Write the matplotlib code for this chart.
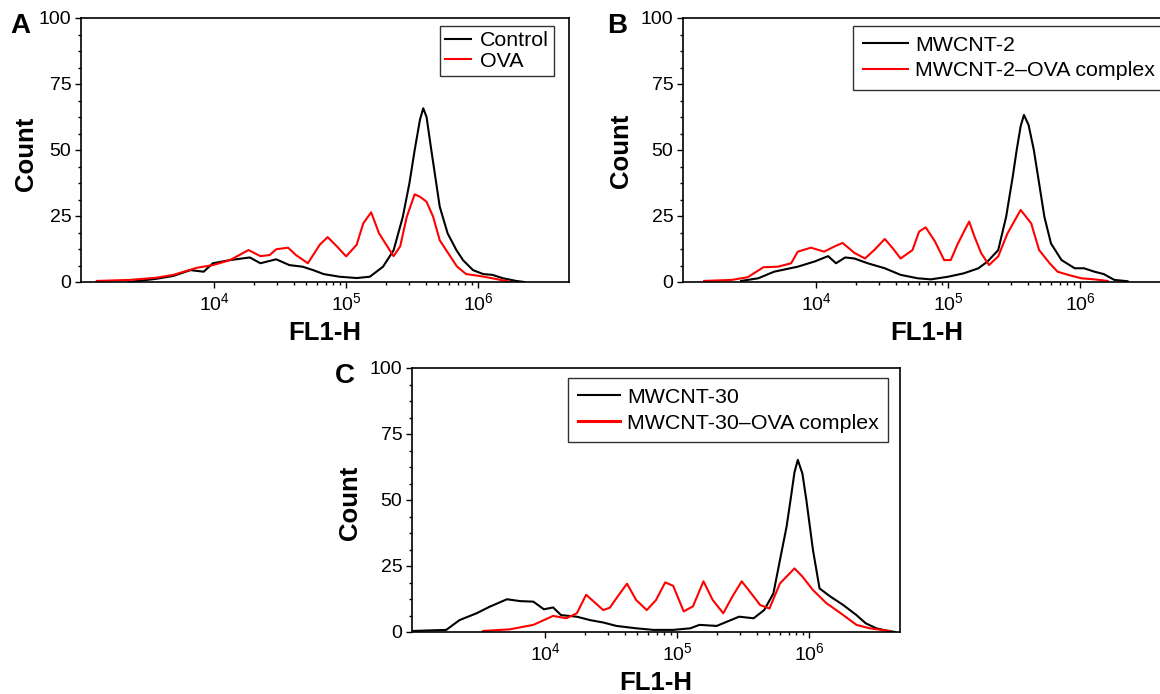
import numpy as np
import matplotlib
matplotlib.use("Agg")
import matplotlib.pyplot as plt
from matplotlib.ticker import MultipleLocator, FixedLocator, NullFormatter

plt.rcParams['font.family'] = ['Liberation Sans', 'DejaVu Sans']
plt.rcParams['mathtext.fontset'] = 'custom'
plt.rcParams['mathtext.rm'] = 'Liberation Sans'
plt.rcParams['mathtext.default'] = 'regular'

# x values are log10(FL1-H), y values are counts

# panel A
a_ctrl_x = [3.35, 3.44, 3.56, 3.69, 3.82, 3.92, 3.99, 4.12, 4.27, 4.35, 4.47, 4.57, 4.67,
            4.75, 4.83, 4.95, 5.08, 5.18, 5.28, 5.36, 5.43, 5.48, 5.52, 5.56, 5.585,
            5.61, 5.646, 5.71, 5.77, 5.836, 5.886, 5.962, 6.04, 6.11, 6.19, 6.29, 6.35]
a_ctrl_y = [0.0, 0.5, 1.2, 2.3, 4.5, 3.9, 7.1, 8.3, 9.3, 7.1, 8.6, 6.4, 5.8,
            4.5, 3.0, 2.0, 1.5, 2.0, 5.8, 12.0, 24.7, 37.4, 50.0, 61.5, 65.8,
            62.5, 50.0, 28.5, 18.4, 12.1, 8.3, 4.5, 3.0, 2.7, 1.4, 0.4, 0.0]
a_ova_x = [3.11, 3.36, 3.56, 3.69, 3.87, 3.99, 4.12, 4.26, 4.35, 4.42, 4.47, 4.56, 4.62,
           4.71, 4.80, 4.86, 4.93, 5.00, 5.08, 5.13, 5.19, 5.25, 5.33, 5.36, 5.41,
           5.46, 5.52, 5.56, 5.61, 5.66, 5.71, 5.79, 5.84, 5.91, 6.01, 6.11, 6.21, 6.25]
a_ova_y = [0.4, 0.8, 1.6, 2.7, 5.4, 6.4, 8.3, 12.1, 9.8, 10.2, 12.4, 13.0, 10.2,
           7.1, 14.1, 17.0, 13.5, 9.7, 14.1, 22.2, 26.4, 18.4, 12.1, 9.8, 13.5,
           24.7, 33.2, 32.3, 30.4, 24.7, 15.8, 9.7, 5.9, 3.0, 2.3, 1.4, 0.4, 0.0]

# panel B
b_cnt_x = [3.43, 3.56, 3.68, 3.86, 3.99, 4.09, 4.15, 4.22, 4.29, 4.39, 4.52, 4.64, 4.77,
           4.87, 5.00, 5.12, 5.23, 5.30, 5.38, 5.44, 5.49, 5.52, 5.55, 5.575, 5.61,
           5.65, 5.69, 5.73, 5.78, 5.86, 5.96, 6.03, 6.11, 6.18, 6.26, 6.36]
b_cnt_y = [0.4, 1.4, 3.9, 5.8, 7.8, 9.8, 7.1, 9.3, 8.9, 7.1, 5.2, 2.7, 1.4,
           1.0, 2.0, 3.3, 5.2, 7.8, 12.1, 24.7, 39.9, 50.0, 59.0, 63.3, 59.5,
           50.0, 37.4, 24.7, 14.6, 8.3, 5.2, 5.2, 3.9, 3.0, 0.8, 0.3]
b_ova_x = [3.15, 3.36, 3.48, 3.60, 3.71, 3.81, 3.86, 3.96, 4.06, 4.14, 4.20, 4.29, 4.37,
           4.44, 4.52, 4.58, 4.64, 4.73, 4.78, 4.83, 4.90, 4.97, 5.02, 5.07, 5.12,
           5.16, 5.20, 5.25, 5.31, 5.38, 5.45, 5.55, 5.63, 5.69, 5.77, 5.83, 5.91,
           6.01, 6.11, 6.21]
b_ova_y = [0.4, 0.8, 1.8, 5.6, 5.8, 7.1, 11.5, 13.0, 11.5, 13.5, 14.8, 11.0, 8.9,
           12.1, 16.3, 12.8, 8.9, 12.1, 19.1, 20.7, 15.4, 8.3, 8.3, 14.1, 19.1,
           22.9, 17.2, 11.0, 6.4, 9.7, 18.4, 27.3, 22.2, 12.1, 7.1, 3.9, 2.7,
           1.4, 1.0, 0.4]

# panel C
c_cnt_x = [3.0, 3.25, 3.35, 3.48, 3.58, 3.71, 3.81, 3.91, 3.99, 4.06, 4.12, 4.24, 4.34,
           4.44, 4.54, 4.69, 4.82, 4.97, 5.10, 5.17, 5.30, 5.47, 5.58, 5.66, 5.73,
           5.78, 5.83, 5.86, 5.89, 5.915, 5.95, 5.98, 6.03, 6.08, 6.16, 6.26, 6.36,
           6.43, 6.51, 6.59, 6.65]
c_cnt_y = [0.4, 0.8, 4.5, 7.1, 9.6, 12.4, 11.7, 11.5, 8.6, 9.3, 6.4, 5.8, 4.5,
           3.6, 2.3, 1.4, 0.8, 0.8, 1.4, 2.7, 2.3, 5.8, 5.2, 8.3, 14.6,
           27.3, 39.9, 50.0, 60.5, 65.2, 60.0, 50.0, 31.1, 16.5, 13.5, 10.2, 6.4,
           3.3, 1.4, 0.5, 0.0]
c_ova_x = [3.53, 3.73, 3.91, 4.06, 4.16, 4.24, 4.31, 4.38, 4.44, 4.49, 4.55, 4.62, 4.69,
           4.77, 4.84, 4.91, 4.97, 5.05, 5.12, 5.20, 5.27, 5.35, 5.42, 5.49, 5.55,
           5.63, 5.70, 5.78, 5.89, 5.95, 6.03, 6.13, 6.26, 6.36, 6.46, 6.61]
c_ova_y = [0.4, 1.0, 2.7, 6.1, 5.2, 7.1, 14.1, 11.0, 8.3, 9.2, 13.5, 18.3, 12.1,
           8.3, 12.1, 18.8, 17.5, 7.8, 9.7, 19.2, 12.1, 7.1, 13.5, 19.2, 15.4,
           10.2, 8.9, 18.4, 24.1, 21.0, 15.9, 11.0, 6.4, 2.7, 1.4, 0.4]

y_ticks = [0, 25, 50, 75, 100]
x_ticks = [1e4, 1e5, 1e6]
x_tick_labels = ['10$^{4}$', '10$^{5}$', '10$^{6}$']
x_minor = [k * 10.0**d for d in (4, 5) for k in range(2, 10)]

W, H = 1160.0, 694.0


def fx(x):
    return x / W


def fy(y):
    return 1 - y / H


def estilo(ax):
    ax.set_xscale('log')
    ax.set_xlim(10**2.99, 10**6.69)
    ax.set_ylim(0, 100)
    ax.set_xticks(x_ticks)
    ax.set_xticklabels(x_tick_labels)
    ax.xaxis.set_minor_locator(FixedLocator(x_minor))
    ax.xaxis.set_minor_formatter(NullFormatter())
    ax.set_yticks(y_ticks)
    ax.yaxis.set_minor_locator(MultipleLocator(6.25))
    ax.tick_params(which='major', direction='out', length=4, width=1.0, labelsize=14, pad=3)
    ax.tick_params(which='minor', direction='out', length=2.2, width=1.0)
    for s in ax.spines.values():
        s.set_linewidth(1.2)


fig = plt.figure(figsize=(11.6, 6.94), dpi=100)

# axes boxes in pixels: left, top, width, height
cajas = {'A': (81, 18, 488, 264), 'B': (683, 18, 488, 264), 'C': (412, 368, 488, 264)}
ejes = {}
for k, (l, t, w, h) in cajas.items():
    ax = fig.add_axes([fx(l), fy(t + h), w / W, h / H])
    estilo(ax)
    ejes[k] = ax

lw = 1.5
fs_leg = 15.4
ax = ejes['A']
l1, = ax.plot(10**np.array(a_ctrl_x), a_ctrl_y, color='black', lw=lw)
l2, = ax.plot(10**np.array(a_ova_x), a_ova_y, color='red', lw=lw)
leg = ax.legend([l1, l2], ['Control', 'OVA'], loc='upper left', bbox_to_anchor=(0.7357, 0.97),
                borderaxespad=0, fancybox=False, edgecolor='black', fontsize=fs_leg,
                handlelength=1.2, handletextpad=0.4, labelspacing=0.08, borderpad=0.25)
leg.get_frame().set_linewidth(1.0)

ax = ejes['B']
l1, = ax.plot(10**np.array(b_cnt_x), b_cnt_y, color='black', lw=lw)
l2, = ax.plot(10**np.array(b_ova_x), b_ova_y, color='red', lw=lw)
leg = ax.legend([l1, l2], ['MWCNT-2', 'MWCNT-2–OVA complex'], loc='upper left',
                bbox_to_anchor=(0.348, 0.97), borderaxespad=0, fancybox=False,
                edgecolor='black', fontsize=fs_leg, handlelength=2.1, handletextpad=0.33,
                labelspacing=0.3, borderpad=0.47)
leg.get_frame().set_linewidth(1.0)

ax = ejes['C']
l1, = ax.plot(10**np.array(c_cnt_x), c_cnt_y, color='black', lw=lw)
l2, = ax.plot(10**np.array(c_ova_x), c_ova_y, color='red', lw=lw)
leg = ax.legend([l1, l2], ['MWCNT-30', 'MWCNT-30–OVA complex'], loc='upper left',
                bbox_to_anchor=(0.3197, 0.962), borderaxespad=0, fancybox=False,
                edgecolor='black', fontsize=fs_leg, handlelength=2.0, handletextpad=0.3,
                labelspacing=0.33, borderpad=0.45)
leg.get_frame().set_linewidth(1.0)
leg.get_lines()[1].set_linewidth(2.2)

# panel letters, axis labels
for letra, x, y in [('A', 10, 33), ('B', 607, 33), ('C', 335, 383)]:
    fig.text(fx(x), fy(y), letra, fontsize=20, fontweight='bold', ha='left', va='baseline')

for x, y in [(33, 154), (628, 150.5), (357, 502.5)]:
    fig.text(fx(x), fy(y), 'Count', fontsize=18.5, fontweight='bold', rotation=90,
             rotation_mode='anchor', ha='center', va='baseline')

for x, y in [(325, 340), (927, 340), (656, 690)]:
    fig.text(fx(x), fy(y), 'FL1-H', fontsize=18.5, fontweight='bold', ha='center', va='baseline')

fig.savefig('out.png', dpi=100)
